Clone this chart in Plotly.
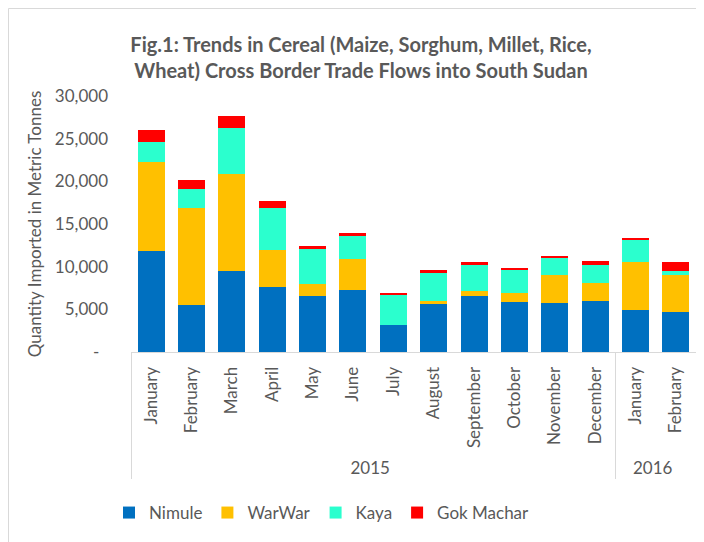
import plotly.graph_objects as go

years = ["2015"] * 12 + ["2016"] * 2
months = ["January", "February", "March", "April", "May", "June", "July",
          "August", "September", "October", "November", "December",
          "January", "February"]

nimule = [11800, 5500, 9450, 7600, 6570, 7270, 3200, 5640, 6530, 5830, 5750, 5950, 4900, 4700]
warwar = [10500, 11350, 11450, 4350, 1400, 3660, 0, 280, 620, 1050, 3220, 2180, 5680, 4320]
kaya = [2350, 2250, 5400, 4950, 4080, 2760, 3450, 3350, 3150, 2770, 2100, 2060, 2520, 510]
gok_machar = [1350, 1100, 1400, 800, 400, 200, 270, 300, 200, 120, 230, 470, 300, 1070]

series = [("Nimule", nimule, "#0070C0"),
          ("WarWar", warwar, "#FFC000"),
          ("Kaya", kaya, "#2BFFCE"),
          ("Gok Machar", gok_machar, "#FF0000")]

y_tickvals = [0, 5000, 10000, 15000, 20000, 25000, 30000]
y_ticktext = ["-  ", "5,000", "10,000", "15,000", "20,000", "25,000", "30,000"]

FONT = "Lato"
GREY = "#595959"
W, H = 696, 534
L, R, T, B = 123, 8, 88, 190
PW, PH = W - L - R, H - T - B

fig = go.Figure()
for name, vals, color in series:
    fig.add_trace(go.Bar(
        x=[years, months], y=vals, name=name,
        marker=dict(color=color, line=dict(width=0)),
    ))

fig.update_layout(
    width=W, height=H,
    barmode="stack", bargap=0.33,
    paper_bgcolor="white", plot_bgcolor="white",
    margin=dict(l=L, r=R, t=T, b=B),
    font=dict(family=FONT, size=17, color=GREY),
    title=dict(
        text="<b>Fig.1: Trends in Cereal (Maize, Sorghum, Millet, Rice,<br>Wheat) Cross Border Trade Flows into South Sudan</b>",
        x=353 / W, xref="container", xanchor="center",
        y=1 - 44 / H, yref="container", yanchor="middle",
        font=dict(family=FONT, size=20, color=GREY),
    ),
    legend=dict(
        orientation="h", xref="container", yref="container",
        x=314 / W, xanchor="center", y=1 - 505 / H, yanchor="middle",
        font=dict(family=FONT, size=17, color=GREY),
        traceorder="normal", itemwidth=30,
    ),
    xaxis=dict(
        type="multicategory", tickangle=-90,
        showline=True, linecolor="#D9D9D9", linewidth=1,
        showdividers=True, dividercolor="#D9D9D9", dividerwidth=1,
        ticks="", showgrid=False, ticklabelstandoff=7,
        tickfont=dict(family=FONT, size=17, color=GREY),
    ),
    yaxis=dict(
        range=[0, 30000], tickvals=y_tickvals, ticktext=y_ticktext,
        showgrid=False, showline=False, zeroline=False,
        ticks="", ticklabelstandoff=22,
        tickfont=dict(family=FONT, size=17, color=GREY),
        title=dict(text="Quantity Imported in Metric Tonnes", standoff=8,
                   font=dict(family=FONT, size=17, color=GREY)),
    ),
    shapes=[dict(type="rect", xref="paper", yref="paper",
                 x0=-(L - 0.5) / PW, x1=1.05, y0=-0.8, y1=1 + (T - 0.5) / PH,
                 line=dict(color="#D9D9D9", width=1), fillcolor="rgba(0,0,0,0)",
                 layer="below")],
)

fig.write_html("out.html")
